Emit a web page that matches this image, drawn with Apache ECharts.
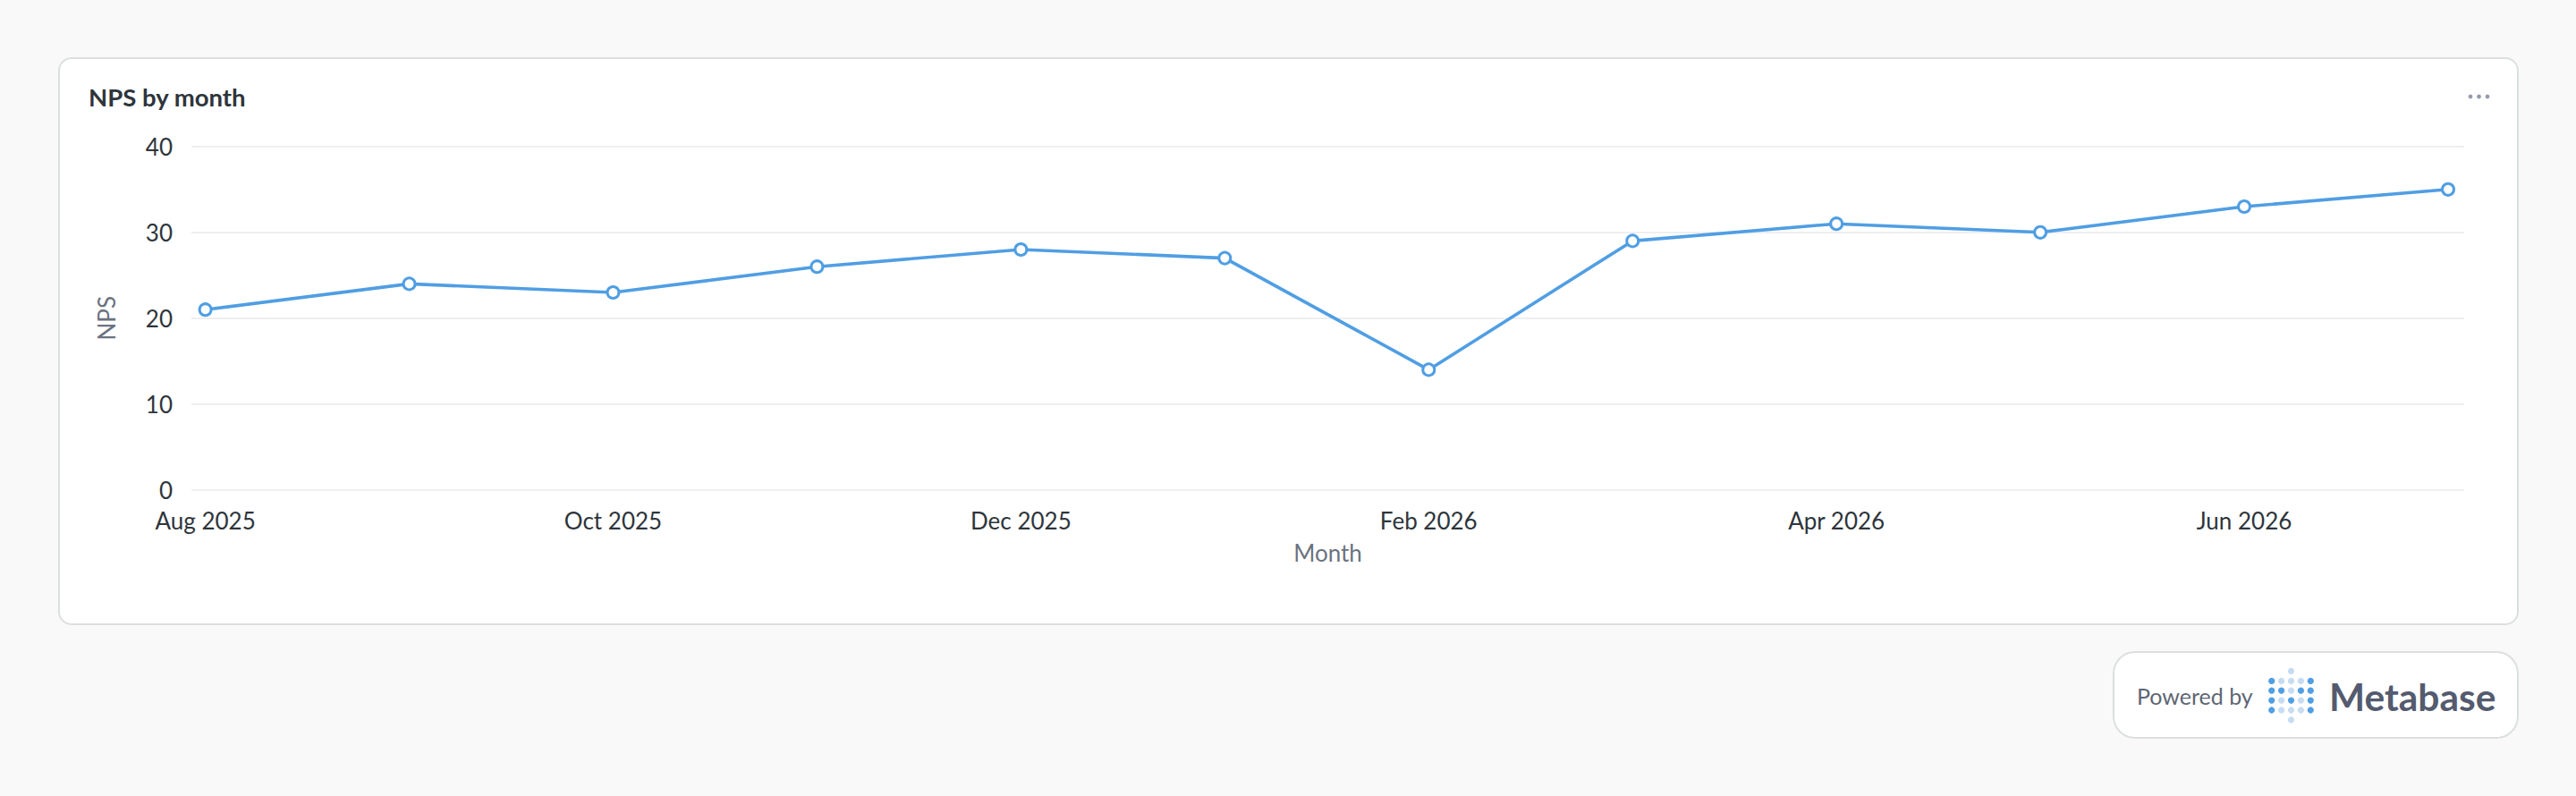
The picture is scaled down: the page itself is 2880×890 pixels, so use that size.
<!DOCTYPE html>
<html>
<head>
<meta charset="utf-8">
<script src="https://cdn.jsdelivr.net/npm/echarts@6/dist/echarts.min.js"></script>
<style>
  html, body { margin: 0; padding: 0; background: #f9f9fa; }
  #chart { width: 2880px; height: 890px; }
</style>
</head>
<body>
<div id="chart"></div>
<script>
const months = ['Aug 2025','Sep 2025','Oct 2025','Nov 2025','Dec 2025','Jan 2026','Feb 2026','Mar 2026','Apr 2026','May 2026','Jun 2026','Jul 2026'];
const npsValues = [21, 24, 23, 26, 28, 27, 14, 29, 31, 30, 33, 35];
const xTickMonths = ['Aug 2025','Oct 2025','Dec 2025','Feb 2026','Apr 2026','Jun 2026'];
const yTicks = [0, 10, 20, 30, 40];
const titleText = 'NPS by month';
const xName = 'Month';
const yName = 'NPS';

const FONT = 'Lato, "Noto Sans", sans-serif';
const BLUE = '#509ee3';
const LIGHT = '#c6dcf2';

const seriesData = npsValues.map((v, i) => [i, v]);
const xTickIdx = xTickMonths.map(m => months.indexOf(m));

// logo dot pattern (1 = dark, 0 = light)
const logoRows = [
  [1,0,0,0,1],
  [1,1,0,1,1],
  [1,0,1,0,1],
  [1,0,0,0,1]
];
const logoGraphics = [];
const lx0 = 2539.7, ly0 = 761.3, step = 10.9;
logoRows.forEach((row, r) => row.forEach((d, c) => {
  logoGraphics.push({ type: 'circle', shape: { cx: lx0 + c * step, cy: ly0 + r * step, r: 3.6 }, style: { fill: d ? BLUE : LIGHT }, silent: true });
}));
logoGraphics.push({ type: 'circle', shape: { cx: lx0 + 2 * step, cy: ly0 - step, r: 3.6 }, style: { fill: LIGHT }, silent: true });
logoGraphics.push({ type: 'circle', shape: { cx: lx0 + 2 * step, cy: ly0 + 4 * step, r: 3.6 }, style: { fill: LIGHT }, silent: true });

const chart = echarts.init(document.getElementById('chart'), null, { renderer: 'svg', width: 2880, height: 890 });
chart.setOption({
  backgroundColor: '#f9f9fa',
  animation: false,
  title: {
    text: titleText,
    left: 99, top: 94, padding: 0,
    textStyle: { fontFamily: FONT, fontSize: 27.5, fontWeight: 'bold', color: '#2e353b' }
  },
  graphic: [
    { type: 'rect', z: -10, shape: { x: 66, y: 65, width: 2749, height: 633, r: 14 }, style: { fill: '#ffffff', stroke: '#dcdfe0', lineWidth: 2 }, silent: true },
    { type: 'circle', shape: { cx: 2762, cy: 108, r: 2.4 }, style: { fill: '#949aab' }, silent: true },
    { type: 'circle', shape: { cx: 2771.5, cy: 108, r: 2.4 }, style: { fill: '#949aab' }, silent: true },
    { type: 'circle', shape: { cx: 2781, cy: 108, r: 2.4 }, style: { fill: '#949aab' }, silent: true },
    { type: 'rect', shape: { x: 2363, y: 729, width: 452, height: 96, r: 24 }, style: { fill: '#ffffff', stroke: '#dcdfe0', lineWidth: 2 }, silent: true },
    { type: 'text', x: 2389, y: 778, style: { text: 'Powered by', font: '25px ' + FONT, fill: '#5e6673', verticalAlign: 'middle', align: 'left' }, silent: true },
    { type: 'text', x: 2604, y: 778, style: { text: 'Metabase', font: 'bold 42.5px ' + FONT, fill: '#545b6f', verticalAlign: 'middle', align: 'left' }, silent: true }
  ].concat(logoGraphics),
  grid: { left: 214, right: 125, top: 163.8, bottom: 342.2, containLabel: false },
  xAxis: {
    type: 'value',
    min: -0.0684,
    max: 11.079,
    name: xName,
    nameLocation: 'middle',
    nameGap: 57,
    nameTextStyle: { fontFamily: FONT, fontSize: 26, color: '#6b7280' },
    axisLine: { show: false },
    axisTick: { show: false },
    splitLine: { show: false },
    axisLabel: {
      customValues: xTickIdx,
      formatter: v => months[Math.round(v)] || '',
      fontFamily: FONT, fontSize: 26, color: '#2e353b', margin: 21
    }
  },
  yAxis: {
    type: 'value',
    min: yTicks[0],
    max: yTicks[yTicks.length - 1],
    interval: 10,
    name: yName,
    nameLocation: 'middle',
    nameGap: 82,
    nameTextStyle: { fontFamily: FONT, fontSize: 26, color: '#6b7280' },
    axisLine: { show: false },
    axisTick: { show: false },
    axisLabel: { fontFamily: FONT, fontSize: 26, color: '#2e353b', margin: 21 },
    splitLine: { lineStyle: { color: '#eeeff0', width: 2 } }
  },
  series: [{
    type: 'line',
    data: seriesData,
    symbol: 'circle',
    symbolSize: 13,
    showAllSymbol: true,
    lineStyle: { color: BLUE, width: 3.6 },
    itemStyle: { color: '#ffffff', borderColor: BLUE, borderWidth: 3 },
    z: 5
  }]
});
</script>
</body>
</html>
